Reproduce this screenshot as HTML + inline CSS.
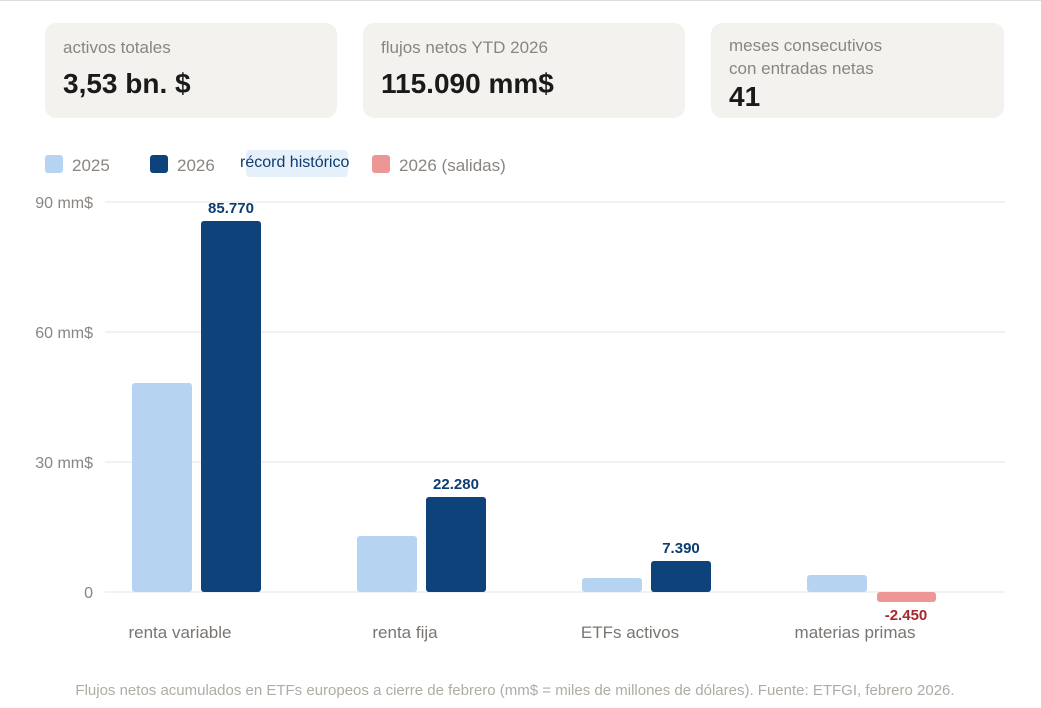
<!DOCTYPE html>
<html><head><meta charset="utf-8"><style>
body{margin:0;width:1041px;height:708px;background:#fff;font-family:"Liberation Sans",sans-serif;position:relative;overflow:hidden}
.top{position:absolute;left:0;top:0;width:1041px;height:1px;background:#ddd}
.card{position:absolute;top:23px;height:95px;background:#f4f2ee;border-radius:11px}
.lab{position:absolute;left:18px;font-size:17px;color:#8a8580}
.val{position:absolute;left:18px;font-size:28px;font-weight:bold;color:#1a1a1a}
.t{position:absolute;white-space:nowrap}
</style></head><body>
<div class="top"></div>
<div class="card" style="left:45px;width:292px"><div class="lab" style="top:15px">activos totales</div><div class="val" style="top:45px">3,53 bn. $</div></div>
<div class="card" style="left:363px;width:322px"><div class="lab" style="top:15px">flujos netos YTD 2026</div><div class="val" style="top:45px">115.090 mm$</div></div>
<div class="card" style="left:711px;width:293px"><div class="lab" style="top:11px;line-height:23px">meses consecutivos<br>con entradas netas</div><div class="val" style="top:58px">41</div></div>

<div class="t" style="left:45px;top:155px;width:18px;height:18px;background:#b6d4f2;border-radius:3px"></div>
<div class="t" style="left:72px;top:156px;font-size:17px;color:#8a8580">2025</div>
<div class="t" style="left:150px;top:155px;width:18px;height:18px;background:#0d437a;border-radius:3px"></div>
<div class="t" style="left:177px;top:156px;font-size:17px;color:#8a8580">2026</div>
<div class="t" style="left:246px;top:150px;width:102px;height:27px;background:#e6f0fb;border-radius:4px"></div>
<div class="t" style="left:240px;top:154px;font-size:16px;color:#0d3d6e">récord histórico</div>
<div class="t" style="left:372px;top:155px;width:18px;height:18px;background:#ee9595;border-radius:3px"></div>
<div class="t" style="left:399px;top:156px;font-size:17px;color:#8a8580">2026 (salidas)</div>

<svg class="t" style="left:0;top:0" width="1041" height="708">
<g stroke="#eeeeec" stroke-width="1.5">
<line x1="105" x2="1005" y1="202" y2="202"/><line x1="105" x2="1005" y1="332" y2="332"/>
<line x1="105" x2="1005" y1="462" y2="462"/><line x1="105" x2="1005" y1="592" y2="592"/></g>
<g font-family="Liberation Sans" font-size="16" fill="#8a8580" text-anchor="end">
<text x="93" y="208">90 mm$</text><text x="93" y="338">60 mm$</text><text x="93" y="468">30 mm$</text><text x="93" y="598">0</text></g>
<g fill="#b6d4f2">
<rect x="132" y="383" width="60" height="209" rx="3"/><rect x="357" y="536" width="60" height="56" rx="3"/>
<rect x="582" y="578" width="60" height="14" rx="3"/><rect x="807" y="575" width="60" height="17" rx="3"/></g>
<g fill="#0d437a">
<rect x="201" y="221" width="60" height="371" rx="3"/><rect x="426" y="497" width="60" height="95" rx="3"/>
<rect x="651" y="561" width="60" height="31" rx="3"/></g>
<rect x="877" y="592" width="59" height="10" rx="3" fill="#ee9595"/>
<g font-family="Liberation Sans" font-size="15" font-weight="bold" fill="#0d3d6e" text-anchor="middle">
<text x="231" y="213">85.770</text><text x="456" y="489">22.280</text><text x="681" y="553">7.390</text></g>
<text x="906" y="620" font-family="Liberation Sans" font-size="15" font-weight="bold" fill="#a8282a" text-anchor="middle">-2.450</text>
<g font-family="Liberation Sans" font-size="17" fill="#7a7570" text-anchor="middle">
<text x="180" y="638">renta variable</text><text x="405" y="638">renta fija</text>
<text x="630" y="638">ETFs activos</text><text x="855" y="638">materias primas</text></g>
<text x="515" y="695" font-family="Liberation Sans" font-size="15" fill="#b0aba5" text-anchor="middle">Flujos netos acumulados en ETFs europeos a cierre de febrero (mm$ = miles de millones de dólares). Fuente: ETFGI, febrero 2026.</text>
</svg>
</body></html>
